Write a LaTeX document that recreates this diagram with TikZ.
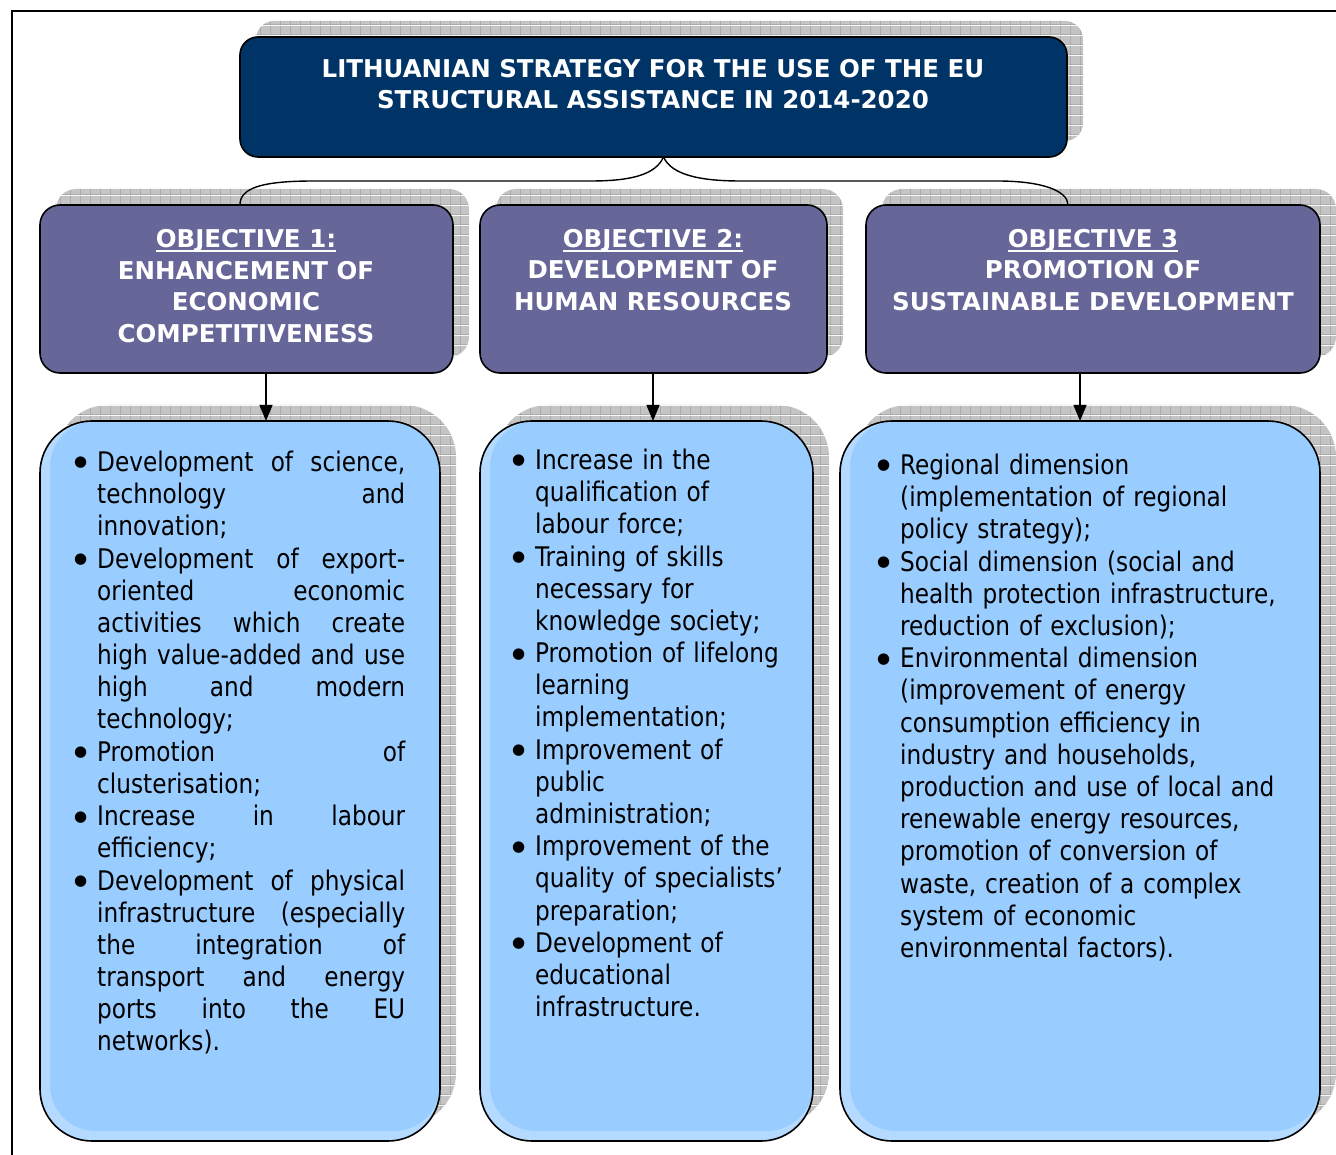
\documentclass[tikz,border=0pt]{standalone}
\usepackage{fontspec}
\setmainfont{DejaVu Sans Condensed}[FakeStretch=0.955]
\newfontfamily\headfont{DejaVu Sans}
\usepackage{enumitem}
\usetikzlibrary{arrows.meta,shadows,patterns.meta}

\definecolor{titleblue}{RGB}{0,51,102}
\definecolor{objviolet}{RGB}{102,102,153}
\definecolor{listblue}{RGB}{153,204,255}
\definecolor{listedge}{RGB}{180,218,255}
\definecolor{gridbg}{RGB}{196,196,196}
\definecolor{gridln}{RGB}{158,158,158}

% grey chequered shadow behind the boxes
\pgfdeclarepattern{
  name=shadowgrid,
  type=colored,
  bottom left={\pgfpointorigin},
  top right={\pgfpoint{10pt}{10pt}},
  tile size={\pgfpoint{10pt}{10pt}},
  code={
    \pgfsetfillcolor{gridbg}
    \pgfpathrectangle{\pgfpointorigin}{\pgfpoint{10pt}{10pt}}
    \pgfusepath{fill}
    \pgfsetstrokecolor{gridln}
    \pgfsetlinewidth{0.8pt}
    \pgfpathmoveto{\pgfpoint{0.4pt}{0pt}}\pgfpathlineto{\pgfpoint{0.4pt}{10pt}}
    \pgfpathmoveto{\pgfpoint{0pt}{0.4pt}}\pgfpathlineto{\pgfpoint{10pt}{0.4pt}}
    \pgfusepath{stroke}
  }
}

% thick underline for the objective numbers
\newcommand\objul[1]{\setbox0\hbox{#1}\rlap{\rule[-4.5pt]{\wd0}{2.2pt}}\box0}
% heavier bullet for the lists
\newcommand\listdot{\raisebox{4.5pt}{\headfont\fontsize{15}{15}\selectfont ●}}

\setlist[itemize]{label=\listdot, labelindent=4pt, labelwidth=16pt,
  labelsep=7pt, leftmargin=27pt, align=left,
  itemsep=0pt, topsep=0pt, parsep=0pt, partopsep=0pt}
\hyphenpenalty=10000
\tolerance=10000
\hbadness=10000

\begin{document}
\begin{tikzpicture}
  [x=1pt,y=-1pt,
   box/.style={draw=black, line width=1.6pt, inner sep=0pt, outer sep=0pt,
     drop shadow={shadow xshift=16pt, shadow yshift=16pt, opacity=1, pattern=shadowgrid}},
   titlebox/.style={box, fill=titleblue, rounded corners=18pt},
   objbox/.style={box, fill=objviolet, rounded corners=20pt},
   listbox/.style={box, fill=listedge, rounded corners=52pt,
     path picture={\fill[listblue, rounded corners=46pt]
       ([xshift=10pt,yshift=10pt]path picture bounding box.south west)
       rectangle (path picture bounding box.north east);}},
   head/.style={text=white, align=center, inner sep=0pt,
     font=\headfont\fontsize{24.5}{31.5}\selectfont\bfseries},
   list/.style={anchor=north west, inner sep=0pt,
     font=\fontsize{27}{32.2}\selectfont},
   arr/.style={line width=1.2pt, -{Triangle[length=16pt,width=13pt]}},
   brace/.style={line width=1.4pt}]

  \useasboundingbox (0,0) rectangle (1336,1155);
  \draw[line width=1.6pt] (12,1170) -- (12,11) -- (1350,11);

  % boxes
  \node[titlebox, minimum width=827pt, minimum height=120pt] (title) at (653.5,97) {};
  \node[objbox, minimum width=413pt, minimum height=168pt] (obj1) at (246.5,289) {};
  \node[objbox, minimum width=347pt, minimum height=168pt] (obj2) at (653.5,289) {};
  \node[objbox, minimum width=454pt, minimum height=168pt] (obj3) at (1093,289) {};
  \node[listbox, minimum width=400pt, minimum height=720pt] (list1) at (240,781) {};
  \node[listbox, minimum width=333pt, minimum height=720pt] (list2) at (646.5,781) {};
  \node[listbox, minimum width=480pt, minimum height=720pt] (list3) at (1080,781) {};

  % headings
  \node[head] (titletext) at (653,84)
    {LITHUANIAN STRATEGY FOR THE USE OF THE EU\\STRUCTURAL ASSISTANCE IN 2014-2020};
  \node[head] (obj1text) at (246,286)
    {\objul{OBJECTIVE 1:}\\ENHANCEMENT OF\\ECONOMIC\\COMPETITIVENESS};
  \node[head] (obj2text) at (653,270)
    {\objul{OBJECTIVE 2:}\\DEVELOPMENT OF\\HUMAN RESOURCES};
  \node[head] (obj3text) at (1093,270)
    {\objul{OBJECTIVE 3}\\PROMOTION OF\\SUSTAINABLE DEVELOPMENT};

  % brace under the title
  \draw[brace] ([xshift=10pt]title.south) .. controls +(-8,18) and +(40,0) .. ++(-73,24)
    -- ++(-277,0) .. controls +(-55,0) and +(0,-16) .. ([xshift=-6.5pt]obj1.north);
  \draw[brace] ([xshift=10pt]title.south) .. controls +(8,18) and +(-40,0) .. ++(77,24)
    -- ++(257,0) .. controls +(45,0) and +(0,-14) .. ([xshift=-25pt]obj3.north);

  % arrows down to the lists
  \draw[arr] ([xshift=19.5pt]obj1.south) -- ([xshift=19.5pt]obj1.south |- list1.north);
  \draw[arr] ([xshift=-0.5pt]obj2.south) -- ([xshift=-0.5pt]obj2.south |- list2.north);
  \draw[arr] ([xshift=-13pt]obj3.south) -- ([xshift=-13pt]obj3.south |- list3.north);

  % lists
  \node[list, text width=335pt, align=justify] (items1) at (70,439) {%
    \begin{itemize}
      \item Development of science,\linebreak technology and\linebreak innovation;
      \item Development of export-\linebreak oriented economic\linebreak activities which create\linebreak
        high value-added and use\linebreak high and modern\linebreak technology;
      \item Promotion of\linebreak clusterisation;
      \item Increase in labour\linebreak efficiency;
      \item Development of physical\linebreak infrastructure (especially\linebreak the integration of\linebreak
        transport and energy\linebreak ports into the EU\linebreak networks).
    \end{itemize}};
  \node[list, text width=300pt, align=left] (items2) at (508,437) {%
    \begin{itemize}
      \item Increase in the\\qualification of\\labour force;
      \item Training of skills\\necessary for\\knowledge society;
      \item Promotion of lifelong\\learning\\implementation;
      \item Improvement of\\public\\administration;
      \item Improvement of the\\quality of specialists’\\preparation;
      \item Development of\\educational\\infrastructure.
    \end{itemize}};
  \node[list, text width=430pt, align=left] (items3) at (873,442) {%
    \begin{itemize}
      \item Regional dimension\\(implementation of regional\\policy strategy);
      \item Social dimension (social and\\health protection infrastructure,\\reduction of exclusion);
      \item Environmental dimension\\(improvement of energy\\consumption efficiency in\\
        industry and households,\\production and use of local and\\renewable energy resources,\\
        promotion of conversion of\\waste, creation of a complex\\system of economic\\
        environmental factors).
    \end{itemize}};

\end{tikzpicture}
\end{document}
